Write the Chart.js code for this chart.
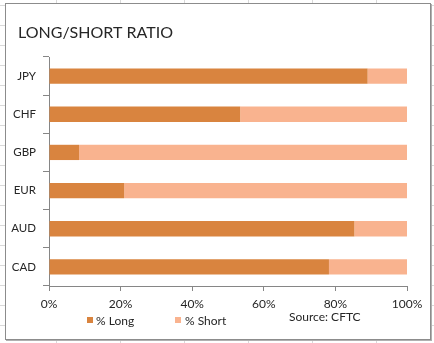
<!DOCTYPE html>
<html>
<head>
<meta charset="utf-8">
<script src="https://cdn.jsdelivr.net/npm/chart.js@4"></script>
<style>
  html, body { margin: 0; padding: 0; }
  body {
    width: 434px; height: 343px; overflow: hidden; position: relative;
    background-color: #fff;
    background-image:
      repeating-linear-gradient(to right, transparent 0, transparent 56px, #d9d9d9 56px, #d9d9d9 57px, transparent 57px, transparent 64px),
      repeating-linear-gradient(to bottom, transparent 0, transparent 5px, #d9d9d9 5px, #d9d9d9 6px, transparent 6px, transparent 20px);
    background-position: 0 0, 0 0;
  }
  #box {
    position: absolute; left: 5px; top: 3px; width: 426px; height: 337px;
    box-sizing: border-box; border: 1px solid #8c8c8c; background: #fff;
    box-shadow: 1px 1px 0 #b0b0b0;
  }
  canvas { display: block; }
</style>
</head>
<body>
<div id="box"><canvas id="chart" width="424" height="335"></canvas></div>
<script>
  const currencies = ["JPY", "CHF", "GBP", "EUR", "AUD", "CAD"];
  const longPct = [89, 53.4, 8.4, 21, 85.3, 78.2];
  const shortPct = longPct.map(v => +(100 - v).toFixed(1));
  const xTicks = [0, 20, 40, 60, 80, 100];

  const font = "Lato";
  const axisGrey = "#868686";

  // title, legend and source note placed like the Excel chart
  const decorations = {
    id: "decorations",
    afterDraw(chart) {
      const ctx = chart.ctx;
      ctx.save();
      ctx.textBaseline = "middle";
      ctx.textAlign = "left";
      ctx.fillStyle = "#262626";
      ctx.font = `16px ${font}`;
      ctx.fillText("LONG/SHORT RATIO", 12, 29);

      ctx.font = `12px ${font}`;
      const items = [[81, 90], [169, 179]];
      chart.data.datasets.forEach((ds, i) => {
        const [mx, tx] = items[i];
        ctx.fillStyle = ds.backgroundColor;
        ctx.fillRect(mx, 313, 6, 6);
        ctx.fillStyle = "#262626";
        ctx.fillText(ds.label, tx, 317);
      });
      ctx.fillText("Source: CFTC", 283, 313);
      ctx.restore();
    }
  };

  new Chart(document.getElementById("chart"), {
    type: "bar",
    data: {
      labels: currencies,
      datasets: [
        { label: "% Long", data: longPct, backgroundColor: "#D9843F", barPercentage: 0.4, categoryPercentage: 1 },
        { label: "% Short", data: shortPct, backgroundColor: "#F9B38F", barPercentage: 0.4, categoryPercentage: 1 }
      ]
    },
    options: {
      indexAxis: "y",
      responsive: false,
      animation: false,
      layout: { padding: { left: 0, top: 53, right: 23, bottom: 0 } },
      plugins: { legend: { display: false }, tooltip: { enabled: false } },
      scales: {
        x: {
          stacked: true, min: 0, max: 100,
          afterBuildTicks: s => { s.ticks = xTicks.map(v => ({ value: v })); },
          afterFit: s => { s.height = 53; },
          grid: { drawOnChartArea: false, tickLength: 5, color: axisGrey },
          border: { color: axisGrey },
          ticks: { callback: v => v + "%", color: "#262626", font: { family: font, size: 12 }, padding: 6, maxRotation: 0 }
        },
        y: {
          stacked: true,
          afterFit: s => { s.width = 43; },
          grid: { drawOnChartArea: false, tickLength: 6, color: axisGrey, offset: true },
          border: { color: axisGrey },
          ticks: { color: "#262626", font: { family: font, size: 11.5 }, padding: 7 }
        }
      }
    },
    plugins: [decorations]
  });
</script>
</body>
</html>
